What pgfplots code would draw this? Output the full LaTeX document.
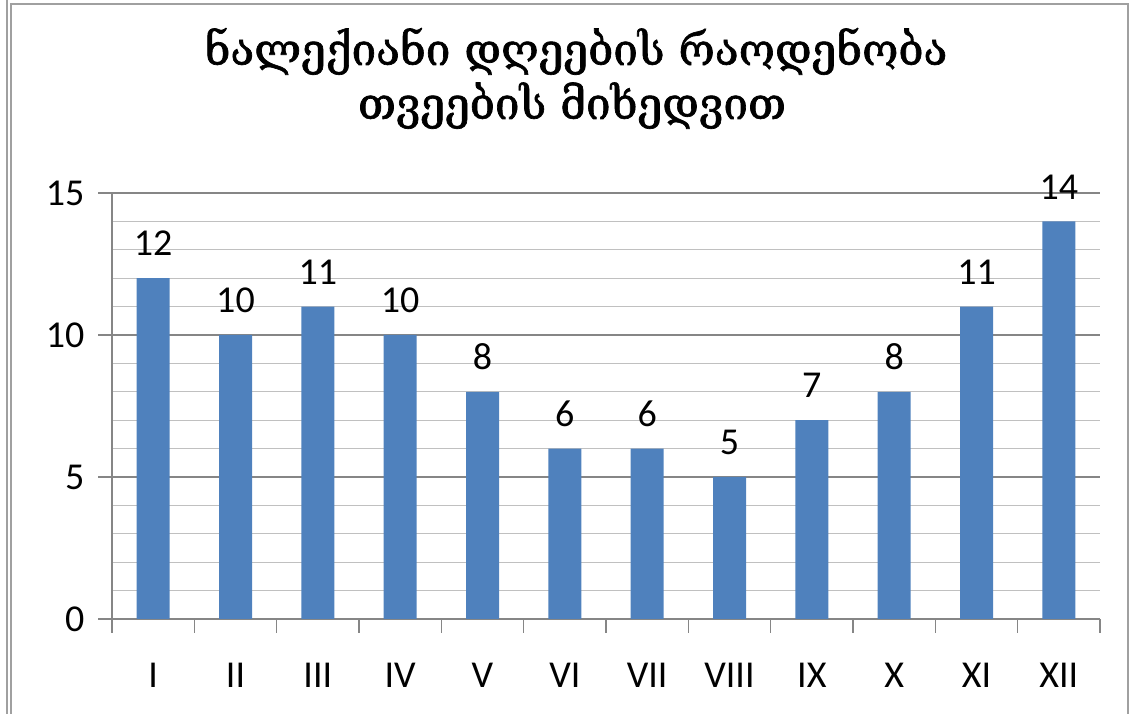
\documentclass[border=0pt]{standalone}
\usepackage{pgfplots}
\pgfplotsset{compat=1.18}
\usepackage{fontspec}
\setmainfont{Carlito}
\newfontfamily\geofont[FakeBold=1.5]{DejaVu Serif}
\definecolor{barblue}{HTML}{4F81BD}
\definecolor{majgrid}{HTML}{868686}
\definecolor{mingrid}{HTML}{C0C0C0}
\definecolor{framegray}{HTML}{A0A0A0}
\begin{document}
\begin{tikzpicture}[x=1pt,y=1pt]
\path[use as bounding box] (0,0) rectangle (1143,714);
\draw[framegray, line width=1.2pt] (7,0) -- (7,714);
\draw[framegray, line width=1.2pt] (11,0) -- (11,710) -- (1128,710) -- (1128,0);
\node[font=\geofont\fontsize{44}{52}\selectfont, anchor=base, inner sep=0pt] at (576,649) {ნალექიანი დღეების რაოდენობა};
\node[font=\geofont\fontsize{44}{52}\selectfont, anchor=base, inner sep=0pt] at (572,595) {თვეების მიხედვით};
\begin{axis}[
  at={(112pt,95pt)}, anchor=south west,
  scale only axis, width=988pt, height=426pt,
  xmin=0.5, xmax=12.5, ymin=0, ymax=15,
  axis x line*=bottom, axis y line*=left,
  ybar, bar width=33pt,
  xtick={0.5,1.5,...,12.5}, x tick label as interval,
  xticklabels={I,II,III,IV,V,VI,VII,VIII,IX,X,XI,XII},
  ytick={0,5,10,15}, minor ytick={1,...,14},
  ymajorgrids, yminorgrids,
  major grid style={majgrid, line width=1.2pt},
  minor grid style={mingrid, line width=1.2pt},
  tick align=outside, major tick length=14pt, minor tick length=0pt,
  tick style={majgrid, line width=1.2pt},
  axis line style={majgrid, line width=1.2pt},
  /pgf/number format/assume math mode=true,
  ticklabel style={font=\fontsize{38}{44}\selectfont},
  xticklabel style={yshift=-27pt},
  yticklabel style={xshift=-10pt},
  nodes near coords,
  every node near coord/.append style={font=\fontsize{38}{44}\selectfont, black, inner ysep=0pt, yshift=22pt},
]
\addplot[fill=barblue, draw=none] coordinates {(1,12) (2,10) (3,11) (4,10) (5,8) (6,6) (7,6) (8,5) (9,7) (10,8) (11,11) (12,14)};
\end{axis}
\end{tikzpicture}
\end{document}
